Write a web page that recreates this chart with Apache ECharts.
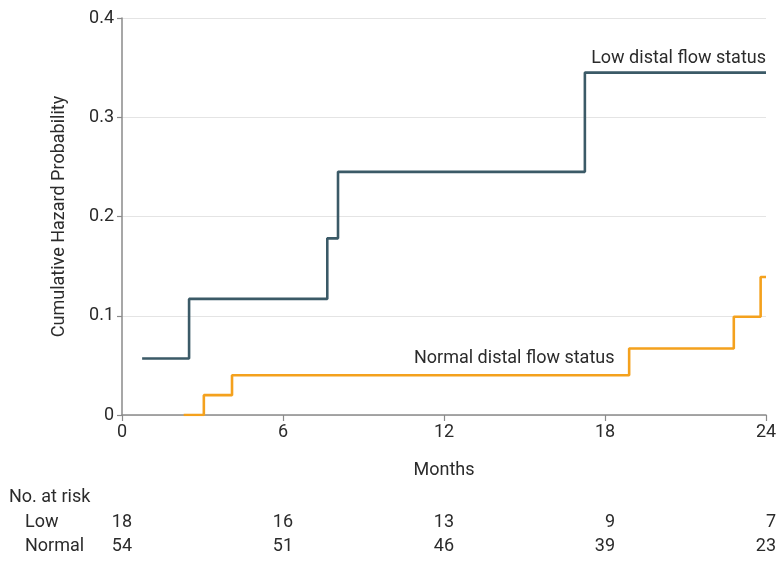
<!DOCTYPE html>
<html>
<head>
<meta charset="utf-8">
<script src="https://cdn.jsdelivr.net/npm/echarts@6/dist/echarts.min.js"></script>
<style>
  html, body { margin: 0; padding: 0; background: #fff; }
  #chart { width: 783px; height: 564px; }
</style>
</head>
<body>
<div id="chart"></div>
<script>
// step curves: time (months) and cumulative hazard at that time
const lowTimes = [0.75, 2.5, 7.65, 8.05, 17.25, 24]
const lowValues = [0.057, 0.117, 0.178, 0.245, 0.345, 0.345]
const normalTimes = [2.3, 3.05, 4.1, 18.9, 22.8, 23.8, 24]
const normalValues = [0, 0.02, 0.04, 0.067, 0.099, 0.139, 0.139]

const riskTimes = [0, 6, 12, 18, 24]
const riskLow = [18, 16, 13, 9, 7]
const riskNormal = [54, 51, 46, 39, 23]

const font = '"Roboto", sans-serif'
const fs = 18
const textColor = '#2b2b2b'
const axisColor = '#8a8a8a'
const lowColor = '#3b5a67'
const normalColor = '#f4a11d'

const pairs = (xs, ys) => xs.map((x, i) => [x, ys[i]])

const chart = echarts.init(document.getElementById('chart'))

chart.setOption({
  backgroundColor: '#fff',
  animation: false,
  grid: {
    left: 122,
    top: 18,
    width: 644,
    height: 397
  },
  xAxis: {
    type: 'value',
    min: 0,
    max: 24,
    interval: 6,
    name: 'Months',
    nameLocation: 'middle',
    nameGap: 46,
    nameTextStyle: { fontFamily: font, fontSize: fs, color: textColor },
    axisLine: { lineStyle: { color: axisColor, width: 1.5 } },
    axisTick: { length: 6, lineStyle: { color: axisColor, width: 1.2 } },
    axisLabel: { fontFamily: font, fontSize: fs, color: textColor, margin: 8 },
    splitLine: { show: false }
  },
  yAxis: {
    type: 'value',
    min: 0,
    max: 0.4,
    interval: 0.1,
    name: 'Cumulative Hazard Probability',
    nameLocation: 'middle',
    nameGap: 54,
    nameTextStyle: { fontFamily: font, fontSize: fs, color: textColor },
    axisLine: { show: true, lineStyle: { color: axisColor, width: 1.5 } },
    axisTick: { show: true, length: 5, lineStyle: { color: axisColor, width: 1.2 } },
    axisLabel: {
      fontFamily: font,
      fontSize: fs,
      color: textColor,
      margin: 8,
      formatter: v => (v === 0 ? '0' : v.toFixed(1))
    },
    splitLine: { show: true, lineStyle: { color: '#e4e4e4', width: 1.2 } }
  },
  series: [{
    name: 'Low distal flow status',
    type: 'line',
    step: 'end',
    symbol: 'none',
    lineStyle: { color: lowColor, width: 2.6 },
    data: pairs(lowTimes, lowValues)
  }, {
    name: 'Normal distal flow status',
    type: 'line',
    step: 'end',
    symbol: 'none',
    lineStyle: { color: normalColor, width: 2.6 },
    data: pairs(normalTimes, normalValues)
  }]
})

// labels and number-at-risk table
const txt = (text, x, y, align) => ({
  type: 'text',
  x: x,
  y: y,
  style: { text: text, font: fs + 'px ' + font, fill: textColor, align: align || 'left', verticalAlign: 'middle' }
})

const graphics = [
  txt('Low distal flow status', 766, 58, 'right'),
  txt('Normal distal flow status', 414, 358),
  txt('No. at risk', 9, 497),
  txt('Low', 25, 522),
  txt('Normal', 25, 546)
]

riskTimes.forEach((t, i) => {
  const px = chart.convertToPixel({ xAxisIndex: 0 }, t)
  graphics.push(txt(String(riskLow[i]), px + 10, 522, 'right'))
  graphics.push(txt(String(riskNormal[i]), px + 10, 546, 'right'))
})

chart.setOption({ graphic: graphics })
</script>
</body>
</html>
